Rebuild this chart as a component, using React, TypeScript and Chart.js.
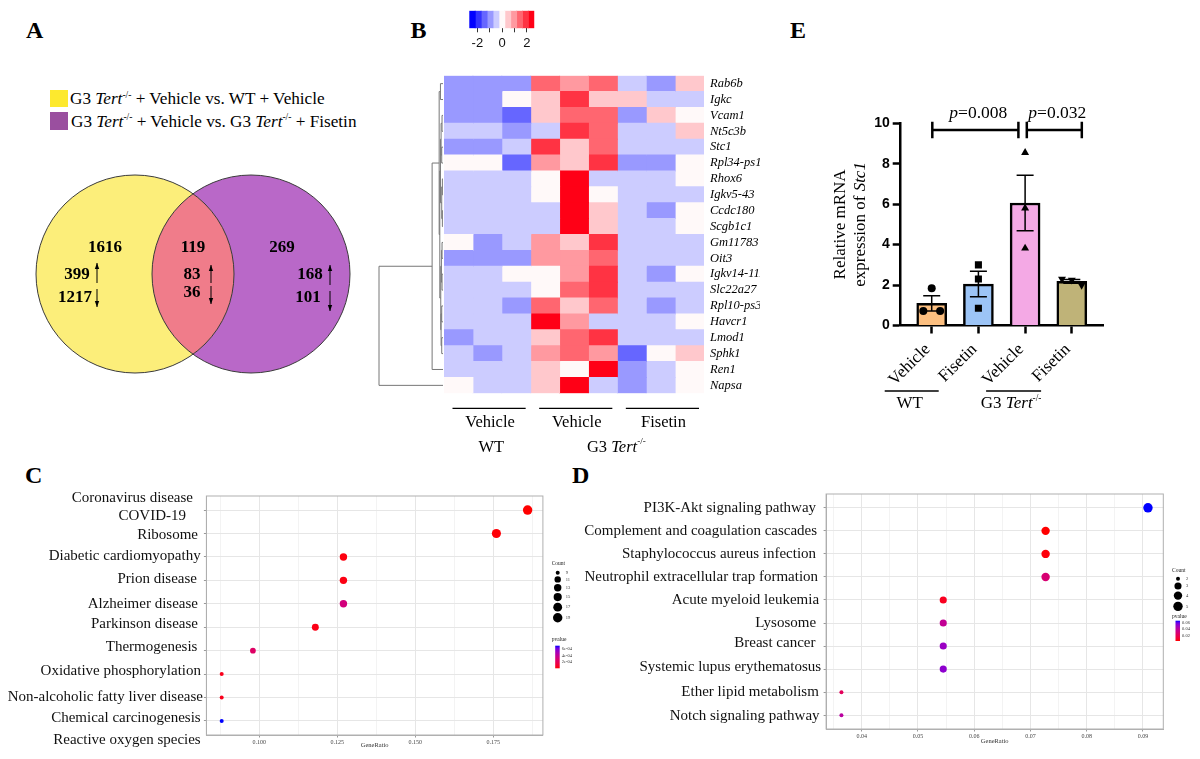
import React, { useEffect, useRef } from 'react';
import { Chart, registerables } from 'chart.js';
Chart.register(...registerables);

const SERIF = '"Liberation Serif", "Times New Roman", serif';
const SANS = '"Liberation Sans", Arial, sans-serif';

/* ================= A : Venn ================= */
const vennRegionTotals = [1616, 119, 269];
const vennRegionUp = [399, 83, 168];
const vennRegionDown = [1217, 36, 101];
const vennFill = ['#fcee7a', '#b968c8'];
const vennOverlapFill = '#f07c8a';
const vennLegendFill = ['#fde92e', '#9a4f9f'];

/* ================= B : heatmap ================= */
const heatGenes = ['Rab6b', 'Igkc', 'Vcam1', 'Nt5c3b', 'Stc1', 'Rpl34-ps1', 'Rhox6', 'Igkv5-43', 'Ccdc180', 'Scgb1c1',
  'Gm11783', 'Oit3', 'Igkv14-111', 'Slc22a27', 'Rpl10-ps3', 'Havcr1', 'Lmod1', 'Sphk1', 'Ren1', 'Napsa'];
const heatSamples = ['WT-V1', 'WT-V2', 'WT-V3', 'G3-V1', 'G3-V2', 'G3-V3', 'G3-F1', 'G3-F2', 'G3-F3'];
const heatZ = [
  [-1, -1, -1, 1.5, 1, 1.5, -0.5, -1, 0.5],
  [-1, -1, 0, 0.5, 2, 0.5, 0.5, -0.5, -0.5],
  [-1, -1, -1.5, 0.5, 1.5, 1.5, -1, 0.5, 0],
  [-0.5, -0.5, -1, -0.5, 2, 1.5, -0.5, -0.5, 0.5],
  [-1, -1, -0.5, 2, 0.5, 1.5, -0.5, -0.5, -0.5],
  [0, 0, -1.5, 1, 0.5, 2, -1, -1, 0],
  [-0.5, -0.5, -0.5, 0, 2.5, -0.5, -0.5, -0.5, 0],
  [-0.5, -0.5, -0.5, 0, 2.5, 0, -0.5, -0.5, -0.5],
  [-0.5, -0.5, -0.5, -0.5, 2.5, 0.5, -0.5, -1, 0],
  [-0.5, -0.5, -0.5, -0.5, 2.5, 0.5, -0.5, -0.5, 0],
  [0, -1, -0.5, 1, 0.5, 2, -0.5, -0.5, -0.5],
  [-1, -1, -1, 1, 1, 1.5, -0.5, -0.5, -0.5],
  [-0.5, -0.5, 0, 0, 1, 2, -0.5, -1, 0],
  [-0.5, -0.5, -0.5, 0, 1.5, 2, -0.5, -0.5, -0.5],
  [-0.5, -0.5, -1, 1.5, 0.5, 1.5, -0.5, -1, -0.5],
  [-0.5, -0.5, -0.5, 2.5, 1, -0.5, -0.5, -0.5, 0],
  [-1, -0.5, -0.5, 0.5, 1.5, 2, -0.5, -0.5, -0.5],
  [-0.5, -1, -0.5, 1, 1.5, 1, -1.5, 0, 0.5],
  [-0.5, -0.5, -0.5, 0.5, 0, 2.5, -1, -0.5, 0],
  [0, -0.5, -0.5, 0.5, 2.5, -0.5, -1, -0.5, 0],
];
const heatTreatmentGroups = ['Vehicle', 'Vehicle', 'Fisetin'];
const heatGenotypeGroups = ['WT', 'G3'];
const heatPalette = ['#0000ff', '#3333ff', '#6666ff', '#9999ff', '#ccccff', '#fff9f9', '#ffc8cc', '#ff99a0', '#ff6670', '#ff3343', '#ff0016'];
const heatBreakMin = -2.65;
const heatBreakStep = 0.4775;
const heatLegendTicks = [-2, -1, 0, 1, 2];
const heatLegendLabels = [-2, 0, 2];
// hclust-like merges: negative = leaf (row) -(i+1), positive = earlier merge (1-based)
const heatDendroMerges: [number, number, number][] = [
  [-7, -8, 0.01], [-9, -10, 0.01], [1, 2, 0.02], [-3, -4, 0.015], [-5, -6, 0.02], [4, 5, 0.03], [6, 3, 0.04],
  [-11, -12, 0.015], [-13, -14, 0.015], [8, 9, 0.025], [-15, -16, 0.02], [-17, -18, 0.02], [11, 12, 0.03],
  [10, 13, 0.035], [7, 14, 0.05], [-1, -2, 0.04], [16, 15, 0.06], [17, -19, 0.17], [18, -20, 1.0],
];

/* ================= E : bar chart ================= */
const eTreatments = ['Vehicle', 'Fisetin', 'Vehicle', 'Fisetin'];
const eGenotypes = ['WT', 'G3'];
const eReplicates = [[1.84, 0.72, 0.72], [3.0, 2.3, 0.85], [8.55, 5.8, 3.82], [2.3, 2.25, 2.0]];
const eBarColors = ['#fcbf80', '#9cc4f6', '#f4a9e5', '#bfb378'];
const eMarkers = ['circle', 'rect', 'triangle', 'triangle'];
const eMarkerRotation = [0, 0, 0, 180];
const eYTicks = [0, 2, 4, 6, 8, 10];
const eComparisons = [{ a: 0, b: 2, p: '0.008' }, { a: 2, b: 3, p: '0.032' }];

/* ================= C : KEGG dot plot ================= */
const cTerms = [['Coronavirus disease', 'COVID-19'], ['Ribosome'], ['Diabetic cardiomyopathy'], ['Prion disease'],
  ['Alzheimer disease'], ['Parkinson disease'], ['Thermogenesis'], ['Oxidative phosphorylation'],
  ['Non-alcoholic fatty liver disease'], ['Chemical carcinogenesis', 'Reactive oxygen species']];
const cCounts = [19, 18, 13, 13, 13, 12, 10, 9, 9, 9];
const cGeneRatio = [0.186, 0.176, 0.127, 0.127, 0.127, 0.118, 0.098, 0.088, 0.088, 0.088];
const cPvalues = [2e-6, 1e-5, 2e-5, 2.5e-5, 3.1e-4, 3e-5, 2.4e-4, 4e-5, 4e-5, 7e-4];
const cXTicks = [0.1, 0.125, 0.15, 0.175];
const cCountLegend = [9, 11, 13, 15, 17, 19];
const cPLegend = [2e-4, 4e-4, 6e-4];

/* ================= D : KEGG dot plot ================= */
const dTerms = [['PI3K-Akt signaling pathway'], ['Complement and coagulation cascades'], ['Staphylococcus aureus infection'],
  ['Neutrophil extracellular trap formation'], ['Acute myeloid leukemia'], ['Lysosome'], ['Breast cancer'],
  ['Systemic lupus erythematosus'], ['Ether lipid metabolism'], ['Notch signaling pathway']];
const dCounts = [5, 4, 4, 4, 3, 3, 3, 3, 2, 2];
const dGeneRatio = [0.0909, 0.0727, 0.0727, 0.0727, 0.0545, 0.0545, 0.0545, 0.0545, 0.0364, 0.0364];
const dPvalues = [0.065, 0.005, 0.006, 0.029, 0.009, 0.038, 0.05, 0.053, 0.023, 0.041];
const dXTicks = [0.04, 0.05, 0.06, 0.07, 0.08, 0.09];
const dCountLegend = [2, 3, 4, 5];
const dPLegend = [0.02, 0.04, 0.06];

/* ================= helpers ================= */
type Run = { t: string; italic?: boolean; bold?: boolean; sup?: boolean };
function drawRuns(ctx: CanvasRenderingContext2D, runs: Run[], size: number, x: number, y: number, align: 'left' | 'center' | 'right') {
  const fontOf = (r: Run) => `${r.italic ? 'italic ' : ''}${r.bold ? 'bold ' : ''}${r.sup ? size * 0.55 : size}px ${SERIF}`;
  let total = 0;
  runs.forEach(r => { ctx.font = fontOf(r); total += ctx.measureText(r.t).width; });
  let cx = align === 'left' ? x : align === 'center' ? x - total / 2 : x - total;
  ctx.textAlign = 'left';
  ctx.textBaseline = 'middle';
  runs.forEach(r => {
    ctx.font = fontOf(r);
    ctx.fillText(r.t, cx, r.sup ? y - size * 0.33 : y);
    cx += ctx.measureText(r.t).width;
  });
}
const tertRuns = (prefix: string): Run[] => [{ t: prefix }, { t: 'Tert', italic: true }, { t: '-/-', sup: true }];

function hexToRgb(h: string) { return [1, 3, 5].map(i => parseInt(h.slice(i, i + 2), 16)); }
function rgbToLab(c: number[]) {
  const lin = (v: number) => { v /= 255; return v <= 0.04045 ? v / 12.92 : Math.pow((v + 0.055) / 1.055, 2.4); };
  const [R, G, B] = c.map(lin);
  const X = (R * 0.4124 + G * 0.3576 + B * 0.1805) / 0.95047;
  const Y = R * 0.2126 + G * 0.7152 + B * 0.0722;
  const Z = (R * 0.0193 + G * 0.1192 + B * 0.9505) / 1.08883;
  const f = (t: number) => t > 0.008856 ? Math.cbrt(t) : 7.787 * t + 16 / 116;
  return [116 * f(Y) - 16, 500 * (f(X) - f(Y)), 200 * (f(Y) - f(Z))];
}
function labToRgb([L, a, b]: number[]) {
  const fy = (L + 16) / 116, fx = fy + a / 500, fz = fy - b / 200;
  const inv = (t: number) => t * t * t > 0.008856 ? t * t * t : (t - 16 / 116) / 7.787;
  const X = inv(fx) * 0.95047, Y = inv(fy), Z = inv(fz) * 1.08883;
  const R = X * 3.2406 - Y * 1.5372 - Z * 0.4986;
  const G = -X * 0.9689 + Y * 1.8758 + Z * 0.0415;
  const B = X * 0.0557 - Y * 0.204 + Z * 1.057;
  const g = (v: number) => { v = v <= 0.0031308 ? 12.92 * v : 1.055 * Math.pow(v, 1 / 2.4) - 0.055; return Math.round(Math.min(1, Math.max(0, v)) * 255); };
  return [g(R), g(G), g(B)];
}
const LAB_LOW = rgbToLab(hexToRgb('#ff0000'));
const LAB_HIGH = rgbToLab(hexToRgb('#0000ff'));
function gradColor(t: number) {
  t = Math.max(0, Math.min(1, t));
  const c = labToRgb(LAB_LOW.map((v, i) => v + (LAB_HIGH[i] - v) * t));
  return `rgb(${c[0]},${c[1]},${c[2]})`;
}
function heatColor(z: number) {
  const i = Math.max(0, Math.min(heatPalette.length - 1, Math.floor((z - heatBreakMin) / heatBreakStep)));
  return heatPalette[i];
}
const sizeOf = (c: number, lo: number, hi: number) => 2 + 2.7 * Math.sqrt((c - lo) / (hi - lo));

function ChartBox({ left, top, width, height, make }: { left: number; top: number; width: number; height: number; make: () => any }) {
  const ref = useRef<HTMLCanvasElement>(null);
  useEffect(() => {
    const chart = new Chart(ref.current as HTMLCanvasElement, make());
    return () => chart.destroy();
  }, []);
  return <canvas ref={ref} width={width} height={height} style={{ position: 'absolute', left, top, width, height }} />;
}

const baseOptions = (padding: any) => ({
  responsive: false,
  animation: false,
  devicePixelRatio: 1,
  events: [],
  layout: { padding, autoPadding: false },
  plugins: { legend: { display: false }, tooltip: { enabled: false } },
});

/* ---------- A config ---------- */
const VENN_R = 99;
const vennLayout = {
  totalDx: [-30, 0, 31], totalDy: -26,
  upDx: [-58, -1, 59], upDy: 1,
  downDx: [-60, -1, 57], downDy: [24, 19, 24],
  arrowDx: [-38, 18, 79],
  upArrow: [[9, -11], [9, -9], [11, -9]],
  downArrow: [[15, 33], [12, 30], [17, 37]],
};
function drawArrow(ctx: CanvasRenderingContext2D, x: number, from: number, to: number) {
  ctx.beginPath(); ctx.moveTo(x, from); ctx.lineTo(x, to); ctx.stroke();
  const d = Math.sign(to - from);
  ctx.beginPath(); ctx.moveTo(x, to); ctx.lineTo(x - 2.2, to - d * 6); ctx.lineTo(x + 2.2, to - d * 6); ctx.closePath(); ctx.fill();
}
const vennConfig = () => ({
  type: 'bubble',
  data: {
    datasets: vennFill.map((c, i) => ({ data: [{ x: i, y: 0, r: VENN_R }], backgroundColor: c, borderWidth: 0, clip: false })),
  },
  options: {
    ...baseOptions(0),
    scales: {
      x: { display: false, min: -135 / 116, max: 235 / 116 },
      y: { display: false, min: -1, max: 1 },
    },
  },
  plugins: [{
    id: 'venn',
    afterDatasetsDraw(chart: any) {
      const ctx = chart.ctx as CanvasRenderingContext2D;
      const a = chart.getDatasetMeta(0).data[0];
      const b = chart.getDatasetMeta(1).data[0];
      const ra = a.options.radius, rb = b.options.radius;
      ctx.save();
      ctx.beginPath(); ctx.arc(a.x, a.y, ra, 0, Math.PI * 2); ctx.clip();
      ctx.beginPath(); ctx.arc(b.x, b.y, rb, 0, Math.PI * 2); ctx.fillStyle = vennOverlapFill; ctx.fill();
      ctx.restore();
      ctx.save();
      ctx.strokeStyle = '#3a3a3a'; ctx.lineWidth = 1;
      [[a, ra], [b, rb]].forEach(([p, r]: any) => { ctx.beginPath(); ctx.arc(p.x, p.y, r, 0, Math.PI * 2); ctx.stroke(); });
      const anchors = [a.x, (a.x + b.x) / 2, b.x];
      const cy = a.y;
      ctx.fillStyle = '#000';
      ctx.font = `bold 17px ${SERIF}`;
      ctx.textAlign = 'center'; ctx.textBaseline = 'middle';
      const L = vennLayout;
      anchors.forEach((ax, i) => {
        ctx.fillText(String(vennRegionTotals[i]), ax + L.totalDx[i], cy + L.totalDy);
        ctx.fillText(String(vennRegionUp[i]), ax + L.upDx[i], cy + L.upDy);
        ctx.fillText(String(vennRegionDown[i]), ax + L.downDx[i], cy + L.downDy[i]);
        ctx.strokeStyle = '#000'; ctx.lineWidth = 1;
        drawArrow(ctx, ax + L.arrowDx[i], cy + L.upArrow[i][0], cy + L.upArrow[i][1]);
        drawArrow(ctx, ax + L.arrowDx[i], cy + L.downArrow[i][0], cy + L.downArrow[i][1]);
      });
      ctx.restore();
    },
  }],
});

/* ---------- B config ---------- */
const heatConfig = () => ({
  type: 'bar',
  data: {
    labels: heatGenes,
    datasets: heatSamples.map((s, j) => ({
      label: s,
      data: heatGenes.map(() => 1),
      backgroundColor: heatZ.map(row => heatColor(row[j])),
      borderWidth: 0,
      barPercentage: 1,
      categoryPercentage: 1,
      inflateAmount: 0.5,
    })),
  },
  options: {
    ...baseOptions({ left: 74, top: 75.7, right: 20, bottom: 86.7 }),
    indexAxis: 'y',
    scales: {
      x: { type: 'linear', stacked: true, min: 0, max: heatSamples.length, display: false },
      y: {
        type: 'category', stacked: true, position: 'right',
        grid: { display: false, drawTicks: false }, border: { display: false },
        ticks: { font: { family: SERIF, size: 12.5, style: 'italic' }, color: '#000', padding: 6, autoSkip: false },
        afterFit: (s: any) => { s.width = 56; },
      },
    },
  },
  plugins: [{
    id: 'heatExtras',
    afterDraw(chart: any) {
      const ctx = chart.ctx as CanvasRenderingContext2D;
      const xs = chart.scales.x, ys = chart.scales.y, area = chart.chartArea;
      // dendrogram
      const leafX = area.left - 1, unit = 64;
      const nodes: { y: number; h: number }[] = [];
      const pos = (r: number) => r < 0 ? { y: ys.getPixelForValue(-r - 1), h: 0 } : nodes[r - 1];
      ctx.save();
      ctx.strokeStyle = '#777777'; ctx.lineWidth = 1;
      heatDendroMerges.forEach(([p, q, h]) => {
        const A = pos(p), B = pos(q);
        const x = leafX - h * unit;
        ctx.beginPath();
        ctx.moveTo(leafX - A.h * unit, A.y); ctx.lineTo(x, A.y); ctx.lineTo(x, B.y); ctx.lineTo(leafX - B.h * unit, B.y);
        ctx.stroke();
        nodes.push({ y: (A.y + B.y) / 2, h });
      });
      ctx.restore();
      // group annotations
      ctx.save();
      ctx.fillStyle = '#000'; ctx.strokeStyle = '#000'; ctx.lineWidth = 1.2;
      const lineY = area.bottom + 15, treatY = area.bottom + 29.5, genoY = area.bottom + 54;
      heatTreatmentGroups.forEach((g, k) => {
        const x1 = xs.getPixelForValue(k * 3) + 8.5, x2 = xs.getPixelForValue(k * 3 + 3) - 5;
        ctx.beginPath(); ctx.moveTo(x1, lineY); ctx.lineTo(x2, lineY); ctx.stroke();
        drawRuns(ctx, [{ t: g }], 16.5, (x1 + x2) / 2 + 1, treatY, 'center');
      });
      drawRuns(ctx, [{ t: heatGenotypeGroups[0] }], 16.5, (xs.getPixelForValue(0) + xs.getPixelForValue(3)) / 2 + 4, genoY, 'center');
      drawRuns(ctx, tertRuns(heatGenotypeGroups[1] + ' '), 16.5, (xs.getPixelForValue(3) + xs.getPixelForValue(9)) / 2 - 1, genoY, 'center');
      ctx.restore();
    },
  }],
});

const heatLegendConfig = () => ({
  type: 'bar',
  data: {
    labels: ['z'],
    datasets: heatPalette.map((c, i) => ({
      data: [[heatBreakMin + i * heatBreakStep, heatBreakMin + (i + 1) * heatBreakStep]],
      backgroundColor: c, borderWidth: 0, grouped: false, barPercentage: 1, categoryPercentage: 1, inflateAmount: 0.5,
    })),
  },
  options: {
    ...baseOptions({ left: 9.3, top: 10.7, right: 15.7, bottom: 0 }),
    indexAxis: 'y',
    scales: {
      x: {
        type: 'linear', min: heatBreakMin, max: heatBreakMin + heatPalette.length * heatBreakStep,
        afterBuildTicks: (a: any) => { a.ticks = heatLegendTicks.map(v => ({ value: v })); },
        ticks: { callback: (v: number) => heatLegendLabels.includes(v) ? String(v) : '', font: { family: SANS, size: 13 }, color: '#111', padding: 3, autoSkip: false, maxRotation: 0 },
        grid: { drawOnChartArea: false, tickLength: 4, tickColor: '#333' },
        border: { display: false },
        afterFit: (s: any) => { s.height = 31.7; },
      },
      y: { display: false },
    },
  },
});

/* ---------- E config ---------- */
const eMeans = eReplicates.map(v => v.reduce((s, x) => s + x, 0) / v.length);
const eSems = eReplicates.map((v, i) => {
  const m = eMeans[i];
  const sd = Math.sqrt(v.reduce((s, x) => s + (x - m) * (x - m), 0) / (v.length - 1));
  return sd / Math.sqrt(v.length);
});
const eJitter = [[0, -0.18, 0.18], [0, 0, 0], [0, 0, 0], [-0.21, 0, 0.21]];
const eMarkerRadius = [4, 5, 4.6, 4.6];
const eLayout = {
  bracketValue: 9.67, bracketTick: 8.3,
  bracketDx: [[0.6, -6.7], [1.7, 10]],
  groupFirst: [0, 2], groupLine: [[-47, 7], [-39, 16]], groupLabelDx: [-22, -14],
};
const eConfig = () => ({
  type: 'bar',
  data: {
    datasets: [
      {
        type: 'bar', data: eMeans.map((m, i) => ({ x: i, y: m })), backgroundColor: eBarColors,
        borderColor: '#000', borderWidth: 2.5, barThickness: 30, order: 2,
      },
      ...eReplicates.map((vals, i) => ({
        type: 'scatter', data: vals.map((v, k) => ({ x: i + eJitter[i][k], y: v })),
        pointStyle: eMarkers[i], pointRotation: eMarkerRotation[i], pointRadius: eMarkerRadius[i],
        pointBackgroundColor: '#000', pointBorderColor: '#000', pointBorderWidth: 0, order: 0,
      })),
    ],
  },
  options: {
    ...baseOptions({ left: 60, top: 63.3, right: 97, bottom: 74.5 }),
    scales: {
      x: {
        type: 'linear', min: -0.664, max: 3.668, offset: false,
        afterBuildTicks: (a: any) => { a.ticks = eTreatments.map((_, i) => ({ value: i })); },
        ticks: { callback: (v: number) => eTreatments[v] ?? '', minRotation: 45, maxRotation: 45, labelOffset: -4, font: { family: SERIF, size: 17 }, color: '#000', padding: 6, autoSkip: false },
        grid: { offset: false, drawOnChartArea: false, tickLength: 8, tickWidth: 2.5, tickColor: '#000' },
        border: { color: '#000', width: 2.5 },
        afterFit: (s: any) => { s.height = 60; },
      },
      y: {
        min: 0, max: 10,
        afterBuildTicks: (a: any) => { a.ticks = eYTicks.map(v => ({ value: v })); },
        ticks: { font: { family: SANS, size: 14, weight: 'bold' }, color: '#000', padding: 3 },
        grid: { drawOnChartArea: false, tickLength: 8, tickWidth: 2.5, tickColor: '#000' },
        border: { color: '#000', width: 2.5 },
        afterFit: (s: any) => { s.width = 60.7; },
      },
    },
  },
  plugins: [{
    id: 'eExtras',
    afterDatasetDraw(chart: any, args: any) {
      if (args.index !== 0) return;
      const ctx = chart.ctx as CanvasRenderingContext2D;
      const xs = chart.scales.x, ys = chart.scales.y;
      ctx.save();
      ctx.strokeStyle = '#000'; ctx.lineWidth = 1.5;
      eMeans.forEach((m, i) => {
        const x = xs.getPixelForValue(i);
        const yt = ys.getPixelForValue(m + eSems[i]), yb = ys.getPixelForValue(m - eSems[i]);
        ctx.beginPath();
        ctx.moveTo(x, yt); ctx.lineTo(x, yb);
        ctx.moveTo(x - 8.5, yt); ctx.lineTo(x + 8.5, yt);
        ctx.moveTo(x - 8.5, yb); ctx.lineTo(x + 8.5, yb);
        ctx.stroke();
      });
      ctx.restore();
    },
    afterDraw(chart: any) {
      const ctx = chart.ctx as CanvasRenderingContext2D;
      const xs = chart.scales.x, ys = chart.scales.y, area = chart.chartArea;
      const L = eLayout;
      ctx.save();
      ctx.strokeStyle = '#000'; ctx.fillStyle = '#000';
      // significance brackets
      const by = ys.getPixelForValue(L.bracketValue);
      eComparisons.forEach((c, k) => {
        const x1 = xs.getPixelForValue(c.a) + L.bracketDx[k][0];
        const x2 = xs.getPixelForValue(c.b) + L.bracketDx[k][1];
        ctx.lineWidth = 2.5;
        ctx.beginPath();
        ctx.moveTo(x1, by); ctx.lineTo(x2, by);
        ctx.moveTo(x1, by - L.bracketTick); ctx.lineTo(x1, by + L.bracketTick);
        ctx.moveTo(x2, by - L.bracketTick); ctx.lineTo(x2, by + L.bracketTick);
        ctx.stroke();
        drawRuns(ctx, [{ t: 'p', italic: true }, { t: '=' + c.p }], 17.5, (x1 + x2) / 2 + 3, by - 17, 'center');
      });
      // genotype groups
      ctx.lineWidth = 1.5;
      L.groupFirst.forEach((gi, k) => {
        const x = xs.getPixelForValue(gi);
        const ly = area.bottom + 65.5;
        ctx.beginPath(); ctx.moveTo(x + L.groupLine[k][0], ly); ctx.lineTo(x + L.groupLine[k][1], ly); ctx.stroke();
        const runs = k === 0 ? [{ t: eGenotypes[0] }] : tertRuns(eGenotypes[1] + ' ');
        drawRuns(ctx, runs, 17, x + L.groupLabelDx[k], area.bottom + 78.5, 'center');
      });
      // y title
      const cy = (area.top + area.bottom) / 2;
      ctx.translate(area.left - 60.5, cy);
      ctx.rotate(-Math.PI / 2);
      drawRuns(ctx, [{ t: 'Relative mRNA' }], 17, 0, 0, 'center');
      drawRuns(ctx, [{ t: 'expression of ' }, { t: 'Stc1', italic: true }], 17, 0, 20, 'center');
      ctx.restore();
    },
  }],
});

/* ---------- C / D configs ---------- */
type DotSpec = {
  terms: string[][]; counts: number[]; ratios: number[]; pvals: number[]; majors: number[]; decimals: number;
  countLegend: number[]; pLegend: number[]; pFormat: (v: number) => string;
  padding: any; yWidth: number; xHeight: number;
  labelOffsets: number[][][]; legendDx: number; countTitleDy: number; firstDotDy: number; dotGap: number;
  pTitleDy: number; gradTopDy: number; gradHeight: number;
};
function dotConfig(s: DotSpec) {
  const rMin = Math.min(...s.ratios), rMax = Math.max(...s.ratios);
  const xmin = rMin - 0.05 * (rMax - rMin), xmax = rMax + 0.05 * (rMax - rMin);
  const step = s.majors[1] - s.majors[0];
  const allTicks: number[] = [];
  for (let v = s.majors[0] - step / 2; v <= xmax; v += step / 2) if (v >= xmin) allTicks.push(+v.toFixed(6));
  const isMajor = (v: number) => s.majors.some(m => Math.abs(m - v) < 1e-9);
  const pMin = Math.min(...s.pvals), pMax = Math.max(...s.pvals);
  const pCol = (p: number) => gradColor((p - pMin) / (pMax - pMin));
  const cLo = Math.min(...s.countLegend), cHi = Math.max(...s.countLegend);
  return {
    type: 'scatter',
    data: {
      datasets: [{
        data: s.ratios.map((r, i) => ({ x: r, y: i })),
        pointRadius: s.counts.map(c => sizeOf(c, cLo, cHi)),
        pointBackgroundColor: s.pvals.map(pCol),
        pointBorderWidth: 0,
      }],
    },
    options: {
      ...baseOptions(s.padding),
      scales: {
        x: {
          type: 'linear', min: xmin, max: xmax,
          afterBuildTicks: (a: any) => { a.ticks = allTicks.map(v => ({ value: v })); },
          ticks: { callback: (v: number) => isMajor(v) ? v.toFixed(s.decimals) : '', font: { family: SERIF, size: 6 }, color: '#444', padding: 1, autoSkip: false, maxRotation: 0 },
          grid: {
            color: (c: any) => c.tick && isMajor(c.tick.value) ? '#e6e6e6' : '#f3f3f3',
            tickColor: (c: any) => c.tick && isMajor(c.tick.value) ? '#999' : 'rgba(0,0,0,0)',
            tickLength: 2.5, lineWidth: 1,
          },
          border: { color: '#b0b0b0', width: 1 },
          title: { display: true, text: 'GeneRatio', font: { family: SERIF, size: 6.5 }, color: '#333', padding: 0 },
          afterFit: (a: any) => { a.height = s.xHeight; },
        },
        y: {
          type: 'linear', reverse: true, min: -0.6, max: s.terms.length - 0.4,
          afterBuildTicks: (a: any) => { a.ticks = s.terms.map((_, i) => ({ value: i })); },
          ticks: { callback: () => '', padding: 0 },
          grid: { color: '#e6e6e6', tickColor: '#999', tickLength: 2.5 },
          border: { color: '#b0b0b0', width: 1 },
          afterFit: (a: any) => { a.width = s.yWidth; },
        },
      },
    },
    plugins: [{
      id: 'dotExtras',
      afterDraw(chart: any) {
        const ctx = chart.ctx as CanvasRenderingContext2D;
        const area = chart.chartArea, ys = chart.scales.y;
        ctx.save();
        ctx.strokeStyle = '#b0b0b0'; ctx.lineWidth = 1;
        ctx.strokeRect(area.left, area.top, area.right - area.left, area.bottom - area.top);
        // term labels
        ctx.fillStyle = '#111';
        ctx.font = `15px ${SERIF}`;
        ctx.textAlign = 'right'; ctx.textBaseline = 'middle';
        s.terms.forEach((lines, i) => {
          const y = ys.getPixelForValue(i);
          lines.forEach((t, k) => {
            const [dx, dy] = s.labelOffsets[i][k];
            ctx.fillText(t, area.left + dx, y + dy);
          });
        });
        // legend: Count
        const lx = area.right + s.legendDx;
        ctx.textAlign = 'left';
        ctx.fillStyle = '#222';
        ctx.font = `5.5px ${SERIF}`;
        ctx.fillText('Count', lx - 6, area.top + s.countTitleDy);
        let y = area.top + s.firstDotDy;
        let prevR = 0;
        s.countLegend.forEach((c, k) => {
          const r = sizeOf(c, cLo, cHi);
          if (k > 0) y += prevR + r + s.dotGap;
          ctx.fillStyle = '#000';
          ctx.beginPath(); ctx.arc(lx, y, r, 0, Math.PI * 2); ctx.fill();
          ctx.fillStyle = '#333';
          ctx.font = `4.5px ${SERIF}`;
          ctx.fillText(String(c), lx + 8, y);
          prevR = r;
        });
        // legend: pvalue
        ctx.fillStyle = '#222';
        ctx.font = `5.5px ${SERIF}`;
        ctx.fillText('pvalue', lx - 6, area.top + s.pTitleDy);
        const gTop = area.top + s.gradTopDy, gBot = gTop + s.gradHeight;
        const grad = ctx.createLinearGradient(0, gBot, 0, gTop);
        for (let k = 0; k <= 10; k++) grad.addColorStop(k / 10, gradColor(k / 10));
        ctx.fillStyle = grad;
        ctx.fillRect(lx - 2.5, gTop, 4.5, gBot - gTop);
        ctx.fillStyle = '#333';
        ctx.font = `4.5px ${SERIF}`;
        s.pLegend.forEach(v => {
          const yy = gBot - (v - pMin) / (pMax - pMin) * (gBot - gTop);
          ctx.fillText(s.pFormat(v), lx + 4, yy);
        });
        ctx.restore();
      },
    }],
  };
}

const cConfig = () => dotConfig({
  terms: cTerms, counts: cCounts, ratios: cGeneRatio, pvals: cPvalues, majors: cXTicks, decimals: 3,
  countLegend: cCountLegend, pLegend: cPLegend, pFormat: v => v.toExponential(0).replace('e-', 'e-0'),
  padding: { left: 0, top: 26, right: 37.1, bottom: 10 }, yWidth: 206.4, xHeight: 14,
  labelOffsets: [[[-13.4, -12], [-20.4, 5.7]], [[-8.4, 1.3]], [[-5.7, -1.3]], [[-9.4, -1]], [[-8.4, 0]], [[-8.4, -3]],
    [[-9, -3.3]], [[-5.4, -2.7]], [[-3.4, 0]], [[-5.7, -3], [-5.7, 19]]],
  legendDx: 14.8, countTitleDy: 68, firstDotDy: 76.7, dotGap: 1.5, pTitleDy: 144, gradTopDy: 149.7, gradHeight: 22.6,
});
const dConfig = () => dotConfig({
  terms: dTerms, counts: dCounts, ratios: dGeneRatio, pvals: dPvalues, majors: dXTicks, decimals: 2,
  countLegend: dCountLegend, pLegend: dPLegend, pFormat: v => v.toFixed(2),
  padding: { left: 0, top: 24, right: 36.7, bottom: 14 }, yWidth: 256.1, xHeight: 16,
  labelOffsets: [[[-10, 0]], [[-9, 0]], [[-10, 0]], [[-8, 0]], [[-7, 0]], [[-10, 0.3]], [[-10.6, -2.7]], [[-5, -1.7]],
    [[-7.3, -0.3]], [[-6.5, 0.7]]],
  legendDx: 14.7, countTitleDy: 77, firstDotDy: 84.7, dotGap: 1.8, pTitleDy: 122.7, gradTopDy: 126.7, gradHeight: 20.3,
});

/* ================= page ================= */
function Txt({ x, baseline, size, bold, italic, children }: any) {
  return (
    <div style={{
      position: 'absolute', left: x, top: baseline - 0.3375 * size, lineHeight: 0, height: 0, whiteSpace: 'nowrap',
      fontFamily: SERIF, fontSize: size, fontWeight: bold ? 'bold' : 'normal', fontStyle: italic ? 'italic' : 'normal', color: '#000',
    }}>{children}</div>
  );
}
const Sup = ({ children }: any) => <span style={{ fontSize: 9.5, position: 'relative', top: -6.5 }}>{children}</span>;

export default function App() {
  return (
    <div style={{ position: 'absolute', left: 0, top: 0, width: 1200, height: 759, background: '#fff', overflow: 'hidden' }}>
      <Txt x={26} baseline={38} size={24} bold>A</Txt>
      <Txt x={410.5} baseline={38} size={24} bold>B</Txt>
      <Txt x={790} baseline={38} size={24} bold>E</Txt>
      <Txt x={25} baseline={483} size={24} bold>C</Txt>
      <Txt x={572} baseline={483} size={24} bold>D</Txt>

      <div style={{ position: 'absolute', left: 50, top: 90, width: 18, height: 17, background: vennLegendFill[0] }} />
      <div style={{ position: 'absolute', left: 50, top: 112, width: 18, height: 18, background: vennLegendFill[1] }} />
      <Txt x={70} baseline={105} size={17.2}>G3 <i>Tert</i><Sup>-/-</Sup> + Vehicle vs. WT + Vehicle</Txt>
      <Txt x={71} baseline={127.5} size={17.2}>G3 <i>Tert</i><Sup>-/-</Sup> + Vehicle vs. G3 <i>Tert</i><Sup>-/-</Sup> + Fisetin</Txt>

      <ChartBox left={0} top={149} width={370} height={250} make={vennConfig} />
      <ChartBox left={460} top={0} width={90} height={60} make={heatLegendConfig} />
      <ChartBox left={370} top={0} width={410} height={480} make={heatConfig} />
      <ChartBox left={780} top={60} width={420} height={400} make={eConfig} />
      <ChartBox left={0} top={470} width={580} height={289} make={cConfig} />
      <ChartBox left={570} top={470} width={630} height={289} make={dConfig} />
    </div>
  );
}
